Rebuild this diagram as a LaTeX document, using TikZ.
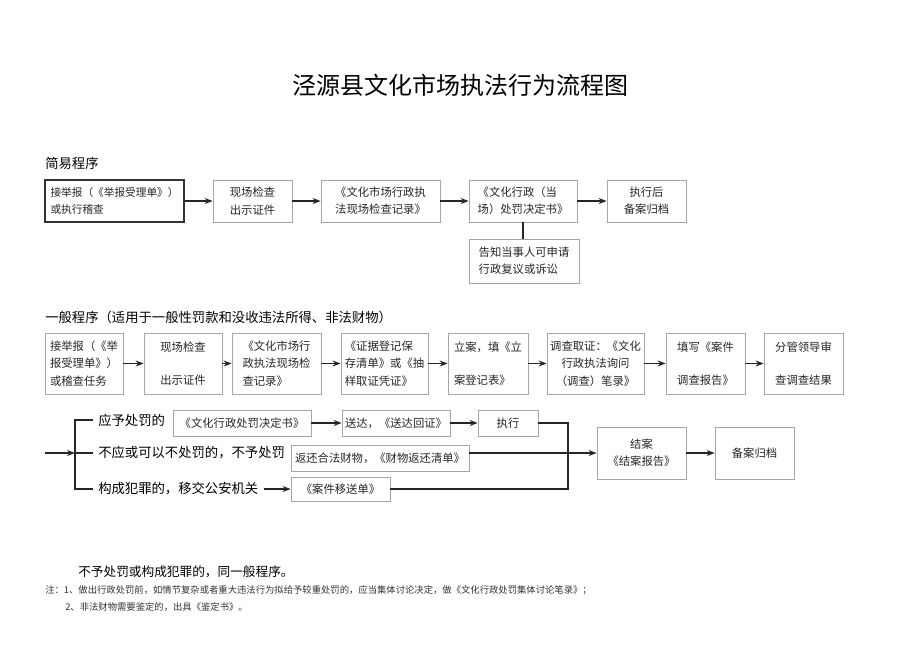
\documentclass[tikz,border=0pt]{standalone}
\usepackage{fontspec}
\setmainfont{Noto Sans CJK SC}
\usetikzlibrary{arrows.meta}

\begin{document}
\begin{tikzpicture}[x=0.75pt, y=-0.75pt,
	>={Stealth[length=6pt,width=4.5pt]},
	caja/.style 2 args={draw=gray!70, line width=0.6pt, minimum width=#1*0.75pt, minimum height=#2*0.75pt,
		inner sep=1.5pt, align=left, text=black!85, font=\fontsize{8.5}{13}\selectfont},
	flecha/.style={->, line width=0.9pt, black!85},
	linea/.style={line width=0.9pt, black!85},
	rama/.style={anchor=west, inner xsep=3.75pt, inner ysep=0pt, font=\fontsize{10}{12}\selectfont},
	titulo/.style={anchor=west, inner sep=0pt, font=\fontsize{10}{12}\selectfont}]
	\useasboundingbox (0,0) rectangle (920,651);

	% Titulo
	\node (cabecera) at (460,85) {\fontsize{18}{20}\selectfont 泾源县文化市场执法行为流程图};

	% Programa simple
	\node[titulo] (simple) at (45,163) {简易程序};
	\node[caja={139}{42}, draw=black!80, line width=1.2pt, font=\fontsize{8}{13}\selectfont] (denuncia1) at (114.5,201) {接举报（《举报受理单》）\\或执行稽查};
	\node[caja={79}{42}] (inspeccion1) at (252.5,201) {现场检查\\出示证件};
	\node[caja={119}{42}] (acta1) at (380.5,201) {《文化市场行政执\\法现场检查记录》};
	\node[caja={108}{42}] (resol1) at (523,201) {《文化行政（当\\场）处罚决定书》};
	\node[caja={79}{42}, align=center] (archivo1) at (646.5,201) {执行后\\备案归档};
	\node[caja={110}{44}] (aviso) at (524,261) {告知当事人可申请\\行政复议或诉讼};

	\draw[flecha] (denuncia1) -- (inspeccion1);
	\draw[flecha] (inspeccion1) -- (acta1);
	\draw[flecha] (acta1) -- (resol1);
	\draw[flecha] (resol1) -- (archivo1);
	\draw[linea] (resol1.south) -- (resol1.south |- aviso.north);

	% Programa general
	\node[titulo] (general) at (45,317) {一般程序（适用于一般性罚款和没收违法所得、非法财物）};
	\begin{scope}[every node/.append style={font=\fontsize{8.5}{12}\selectfont}]
		\node[caja={78}{61}] (denuncia2) at (84,363.5) {接举报（《举\\报受理单》）\\或稽查任务};
		\node[caja={78}{61}, align=center] (inspeccion2) at (183,363.5) {现场检查\\[12pt]出示证件};
		\node[caja={89}{61}] (acta2) at (276.5,363.5) {《文化市场行\\政执法现场检\\查记录》};
		\node[caja={87}{61}] (pruebas) at (384.5,363.5) {《证据登记保\\存清单》或《抽\\样取证凭证》};
		\node[caja={80}{61}] (registro) at (488,363.5) {立案，填《立\\[12pt]案登记表》};
		\node[caja={97}{61}, align=center] (investiga) at (595.5,363.5) {调查取证：《文化\\行政执法询问\\（调查）笔录》};
		\node[caja={79}{61}] (informe) at (705.5,363.5) {填写《案件\\[12pt]调查报告》};
		\node[caja={79}{61}] (revision) at (803.5,363.5) {分管领导审\\[12pt]查调查结果};
	\end{scope}

	\draw[flecha] (denuncia2) -- (inspeccion2);
	\draw[flecha] (inspeccion2) -- (acta2);
	\draw[flecha] (acta2) -- (pruebas);
	\draw[flecha] (pruebas) -- (registro);
	\draw[flecha] (registro) -- (investiga);
	\draw[flecha] (investiga) -- (informe);
	\draw[flecha] (informe) -- (revision);

	% Ramas de la decision
	\coordinate (entrada) at (45,453);
	\coordinate (nudo) at (75,453);
	\node[rama] (sancion) at (93,420) {应予处罚的};
	\node[rama] (nosancion) at (93,453) {不应或可以不处罚的，不予处罚};
	\node[rama] (delito) at (93,489) {构成犯罪的，移交公安机关};

	\draw[flecha] (entrada) -- (nudo);
	\draw[linea] (sancion.west) -| (nudo) |- (delito.west);
	\draw[linea] (nosancion.west) -- (nudo);

	\node[caja={138}{26}] (resolucion) at (242,423) {《文化行政处罚决定书》};
	\node[caja={108}{26}] (notifica) at (396,423) {送达，《送达回证》};
	\node[caja={60}{26}, align=center] (ejecuta) at (508,423) {执行};
	\node[caja={178}{26}] (devuelve) at (380,458) {返还合法财物，《财物返还清单》};
	\node[caja={99}{24}] (traslado) at (340.5,489) {《案件移送单》};
	\node[caja={89}{52}, align=center] (cierre) at (641.5,453) {结案\\《结案报告》};
	\node[caja={79}{52}, align=center] (archivo2) at (754.5,453) {备案归档};

	\draw[flecha] (resolucion) -- (notifica);
	\draw[flecha] (notifica) -- (ejecuta);
	\draw[flecha] (delito) -- (traslado);
	\coordinate (union) at (568,453);
	\draw[linea] (ejecuta.east) -| (union |- traslado.east) -- (traslado.east);
	\draw[flecha] (devuelve.east |- cierre.west) -- (cierre.west);
	\draw[flecha] (cierre) -- (archivo2);

	% Notas
	\node[anchor=west, inner sep=0pt, font=\fontsize{9.5}{12}\selectfont] (igual) at (78,572) {不予处罚或构成犯罪的，同一般程序。};
	\node[anchor=west, inner sep=0pt, text=black!80, font=\fontsize{7}{9}\selectfont] (nota1) at (45,590) {注：1、做出行政处罚前，如情节复杂或者重大违法行为拟给予较重处罚的，应当集体讨论决定，做《文化行政处罚集体讨论笔录》；};
	\node[anchor=west, inner sep=0pt, text=black!80, font=\fontsize{7}{9}\selectfont] (nota2) at (65,607) {2、非法财物需要鉴定的，出具《鉴定书》。};
\end{tikzpicture}
\end{document}
